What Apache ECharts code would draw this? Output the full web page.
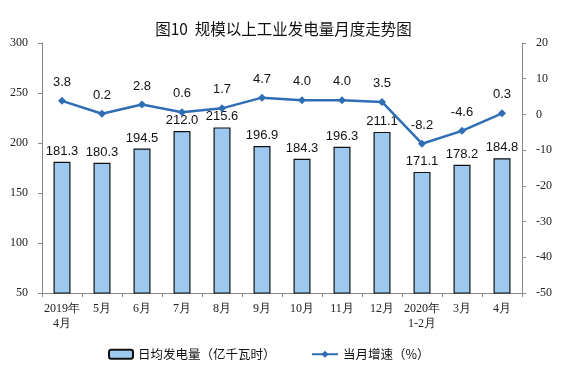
<!DOCTYPE html>
<html><head><meta charset="utf-8">
<script src="https://cdn.jsdelivr.net/npm/echarts@6/dist/echarts.min.js"></script>
<style>html,body{margin:0;padding:0;background:#fff}#c{width:567px;height:372px}</style>
</head><body><div id="c"></div>
<script>
const categories = ["2019年\n4月","5月","6月","7月","8月","9月","10月","11月","12月","2020年\n1-2月","3月","4月"];
const dailyOutput = [181.3,180.3,194.5,212.0,215.6,196.9,184.3,196.3,211.1,171.1,178.2,184.8];
const growth = [3.8,0.2,2.8,0.6,1.7,4.7,4.0,4.0,3.5,-8.2,-4.6,0.3];
const leftTicks = [50,100,150,200,250,300];
const rightTicks = [-50,-40,-30,-20,-10,0,10,20];

const chart = echarts.init(document.getElementById('c'));
const axisFont = {fontFamily:'Liberation Serif', fontSize:12, color:'#222'};
chart.setOption({
  animation:false,
  title:{text:'图10  规模以上工业发电量月度走势图', left:'center', top:16,
    textStyle:{fontSize:15.5, fontWeight:'normal', color:'#111', fontFamily:'Noto Sans CJK SC'}},
  grid:{left:42, right:45, top:43, bottom:79},
  legend:[
    {data:[{name:'日均发电量（亿千瓦时）'}], left:103, top:343, itemWidth:24, itemHeight:9,
     textStyle:{fontSize:12.5, color:'#111', fontFamily:'Noto Sans CJK SC'}},
    {data:[{name:'当月增速（%）'}], left:306, top:343, itemWidth:26, itemHeight:9,
     textStyle:{fontSize:12.5, color:'#111', fontFamily:'Noto Sans CJK SC'}}
  ],
  xAxis:{type:'category', data:categories,
    axisLine:{onZero:false, lineStyle:{color:'#888'}}, axisTick:{show:true, lineStyle:{color:'#888'}, length:4},
    axisLabel:Object.assign({interval:0, margin:8, lineHeight:15}, axisFont)},
  yAxis:[
    {type:'value', min:50, max:300, interval:50, splitLine:{show:false},
     axisLine:{show:true, lineStyle:{color:'#888'}}, axisTick:{show:true, length:4, lineStyle:{color:'#888'}},
     axisLabel:Object.assign({margin:14}, axisFont)},
    {type:'value', min:-50, max:20, interval:10, splitLine:{show:false},
     axisLine:{show:true, lineStyle:{color:'#888'}}, axisTick:{show:true, length:4, lineStyle:{color:'#888'}},
     axisLabel:Object.assign({margin:14}, axisFont)}
  ],
  series:[
    {name:'日均发电量（亿千瓦时）', type:'bar', yAxisIndex:0, data:dailyOutput, barWidth:17,
     itemStyle:{color:'#9DC8F0', borderColor:'#111', borderWidth:1.2},
     label:{show:true, position:'top', distance:4, fontSize:13, color:'#111', fontFamily:'Liberation Sans',
       formatter:p=>p.value.toFixed(1)}},
    {name:'当月增速（%）', type:'line', yAxisIndex:1, data:growth,
     lineStyle:{color:'#2F6DB5', width:2.5}, itemStyle:{color:'#2F6DB5'},
     symbol:'diamond', symbolSize:8,
     label:{show:true, position:'top', distance:8, fontSize:13, color:'#111', fontFamily:'Liberation Sans',
       formatter:p=>p.value.toFixed(1)}}
  ]
});
</script></body></html>
